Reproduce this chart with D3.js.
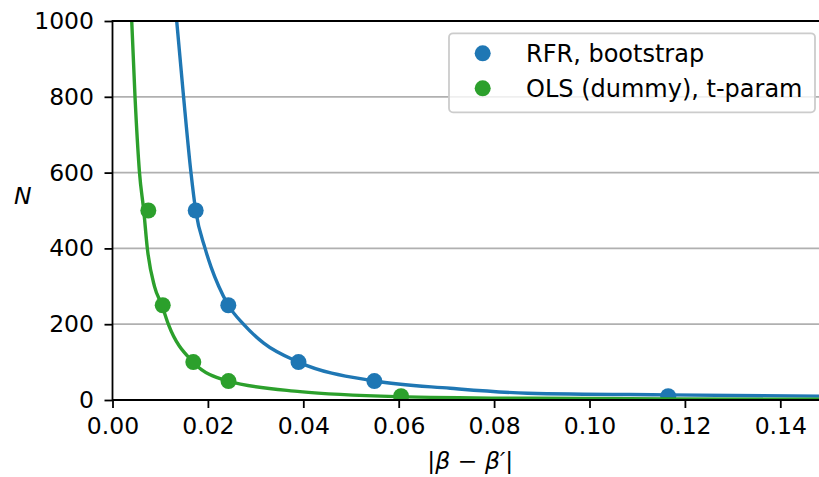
<!DOCTYPE html>
<html>
<head>
<meta charset="utf-8">
<script src="https://cdn.jsdelivr.net/npm/d3@7"></script>
<style>
  html, body { margin: 0; padding: 0; background: #fff; }
  svg { display: block; font-family: "DejaVu Sans", sans-serif; }
</style>
</head>
<body>
<svg id="chart" width="819" height="477"></svg>
<script>
// Measured sample sizes N against the deviation |β − β′|
const sampleN = [500, 250, 100, 50, 10];
const rfrDev = [0.01744, 0.02428, 0.0390, 0.0549, 0.1165];
const olsDev = [0.00751, 0.01053, 0.01694, 0.02432, 0.0605];

// Fitted curves, sampled along the deviation axis
const rfrCurveDev = [0.01346, 0.01490, 0.01645, 0.01744, 0.01941, 0.02069, 0.02227, 0.02428, 0.02745, 0.03170, 0.0390, 0.0549, 0.0708, 0.0870, 0.1165, 0.1500];
const rfrCurveN   = [1000, 800, 600, 500, 400, 350, 300, 250, 200, 150, 100, 50, 31, 18, 13.5, 10];
const olsCurveDev = [0.00403, 0.00472, 0.00566, 0.00655, 0.00730, 0.00880, 0.01035, 0.01170, 0.01690, 0.02425, 0.0393, 0.0596, 0.0875, 0.1165, 0.1500];
const olsCurveN   = [1000, 800, 600, 500, 400, 300, 250, 200, 100, 50, 22, 9, 4.5, 3, 2];

const xTicks = [0, 0.02, 0.04, 0.06, 0.08, 0.10, 0.12, 0.14];
const yTicks = [0, 200, 400, 600, 800, 1000];

const seriesNames = ["RFR, bootstrap", "OLS (dummy), t-param"];
const colors = ["#1f77b4", "#2ca02c"];

const svg = d3.select("#chart");
const plotLeft = 112.5, plotRight = 828, plotTop = 21, plotBottom = 400;
const fs = 23.5;
const legendFs = 24;

const x = d3.scaleLinear().domain([0, 0.15]).range([plotLeft, plotRight]);
const y = d3.scaleLinear().domain([0, 1000]).range([plotBottom, plotTop]);

svg.append("defs").append("clipPath").attr("id", "plotclip")
  .append("rect").attr("x", plotLeft).attr("y", plotTop)
  .attr("width", plotRight - plotLeft).attr("height", plotBottom - plotTop);

// horizontal grid
svg.append("g").selectAll("line").data(yTicks).join("line")
  .attr("x1", plotLeft).attr("x2", plotRight)
  .attr("y1", d => y(d)).attr("y2", d => y(d))
  .attr("stroke", "#b0b0b0").attr("stroke-width", 1.8);

const plot = svg.append("g").attr("clip-path", "url(#plotclip)");
const line = d3.line().x(d => x(d[0])).y(d => y(d[1])).curve(d3.curveMonotoneX);

const series = [
  { dev: rfrDev, cDev: rfrCurveDev, cN: rfrCurveN },
  { dev: olsDev, cDev: olsCurveDev, cN: olsCurveN }
];

series.forEach((s, i) => {
  plot.append("path")
    .datum(s.cDev.map((d, k) => [d, s.cN[k]]))
    .attr("d", line)
    .attr("fill", "none")
    .attr("stroke", colors[i])
    .attr("stroke-width", 3.4);
  plot.append("g").selectAll("circle").data(s.dev.map((d, k) => [d, sampleN[k]])).join("circle")
    .attr("cx", d => x(d[0])).attr("cy", d => y(d[1]))
    .attr("r", 8).attr("fill", colors[i]);
});

// spines
const spines = svg.append("g").attr("stroke", "#000").attr("stroke-width", 1.8).attr("fill", "none");
spines.append("line").attr("x1", plotLeft).attr("x2", plotRight).attr("y1", plotTop).attr("y2", plotTop);
spines.append("line").attr("x1", plotLeft).attr("x2", plotRight).attr("y1", plotBottom).attr("y2", plotBottom);
spines.append("line").attr("x1", plotLeft).attr("x2", plotLeft).attr("y1", plotTop - 0.9).attr("y2", plotBottom + 0.9);
spines.append("line").attr("x1", plotRight).attr("x2", plotRight).attr("y1", plotTop - 0.9).attr("y2", plotBottom + 0.9);

// axes
const xAxis = svg.append("g").attr("transform", `translate(0,${plotBottom})`)
  .call(d3.axisBottom(x).tickValues(xTicks).tickFormat(d3.format(".2f")).tickSize(8).tickPadding(9));
const yAxis = svg.append("g").attr("transform", `translate(${plotLeft},0)`)
  .call(d3.axisLeft(y).tickValues(yTicks).tickFormat(d3.format("d")).tickSize(8).tickPadding(10.5));
[xAxis, yAxis].forEach(a => {
  a.select(".domain").remove();
  a.selectAll(".tick line").attr("stroke", "#000").attr("stroke-width", 1.8);
  a.selectAll(".tick text").attr("fill", "#000")
    .style("font-family", "DejaVu Sans").style("font-size", fs + "px");
});

// axis titles
const xl = svg.append("text").attr("x", (plotLeft + plotRight) / 2).attr("y", 468.5)
  .attr("text-anchor", "middle").style("font-size", fs + "px").attr("fill", "#000");
xl.append("tspan").text("|");
xl.append("tspan").attr("font-style", "italic").text("β");
xl.append("tspan").text(" − ");
xl.append("tspan").attr("font-style", "italic").text("β′");
xl.append("tspan").text("|");

svg.append("text").attr("x", 22.8).attr("y", 204.3)
  .attr("text-anchor", "middle").attr("font-style", "italic")
  .style("font-size", fs + "px").attr("fill", "#000").text("N");

// legend
const lg = svg.append("g");
lg.append("rect").attr("x", 449).attr("y", 33.3).attr("width", 366).attr("height", 79)
  .attr("rx", 4).attr("fill", "#fff").attr("fill-opacity", 0.8)
  .attr("stroke", "#cccccc").attr("stroke-width", 1.8);
seriesNames.forEach((name, i) => {
  const cy = 53.3 + i * 35;
  lg.append("circle").attr("cx", 482.7).attr("cy", cy).attr("r", 8).attr("fill", colors[i]);
  lg.append("text").attr("x", 526).attr("y", cy + 8.6)
    .style("font-size", legendFs + "px").attr("fill", "#000").text(name);
});
</script>
</body>
</html>
